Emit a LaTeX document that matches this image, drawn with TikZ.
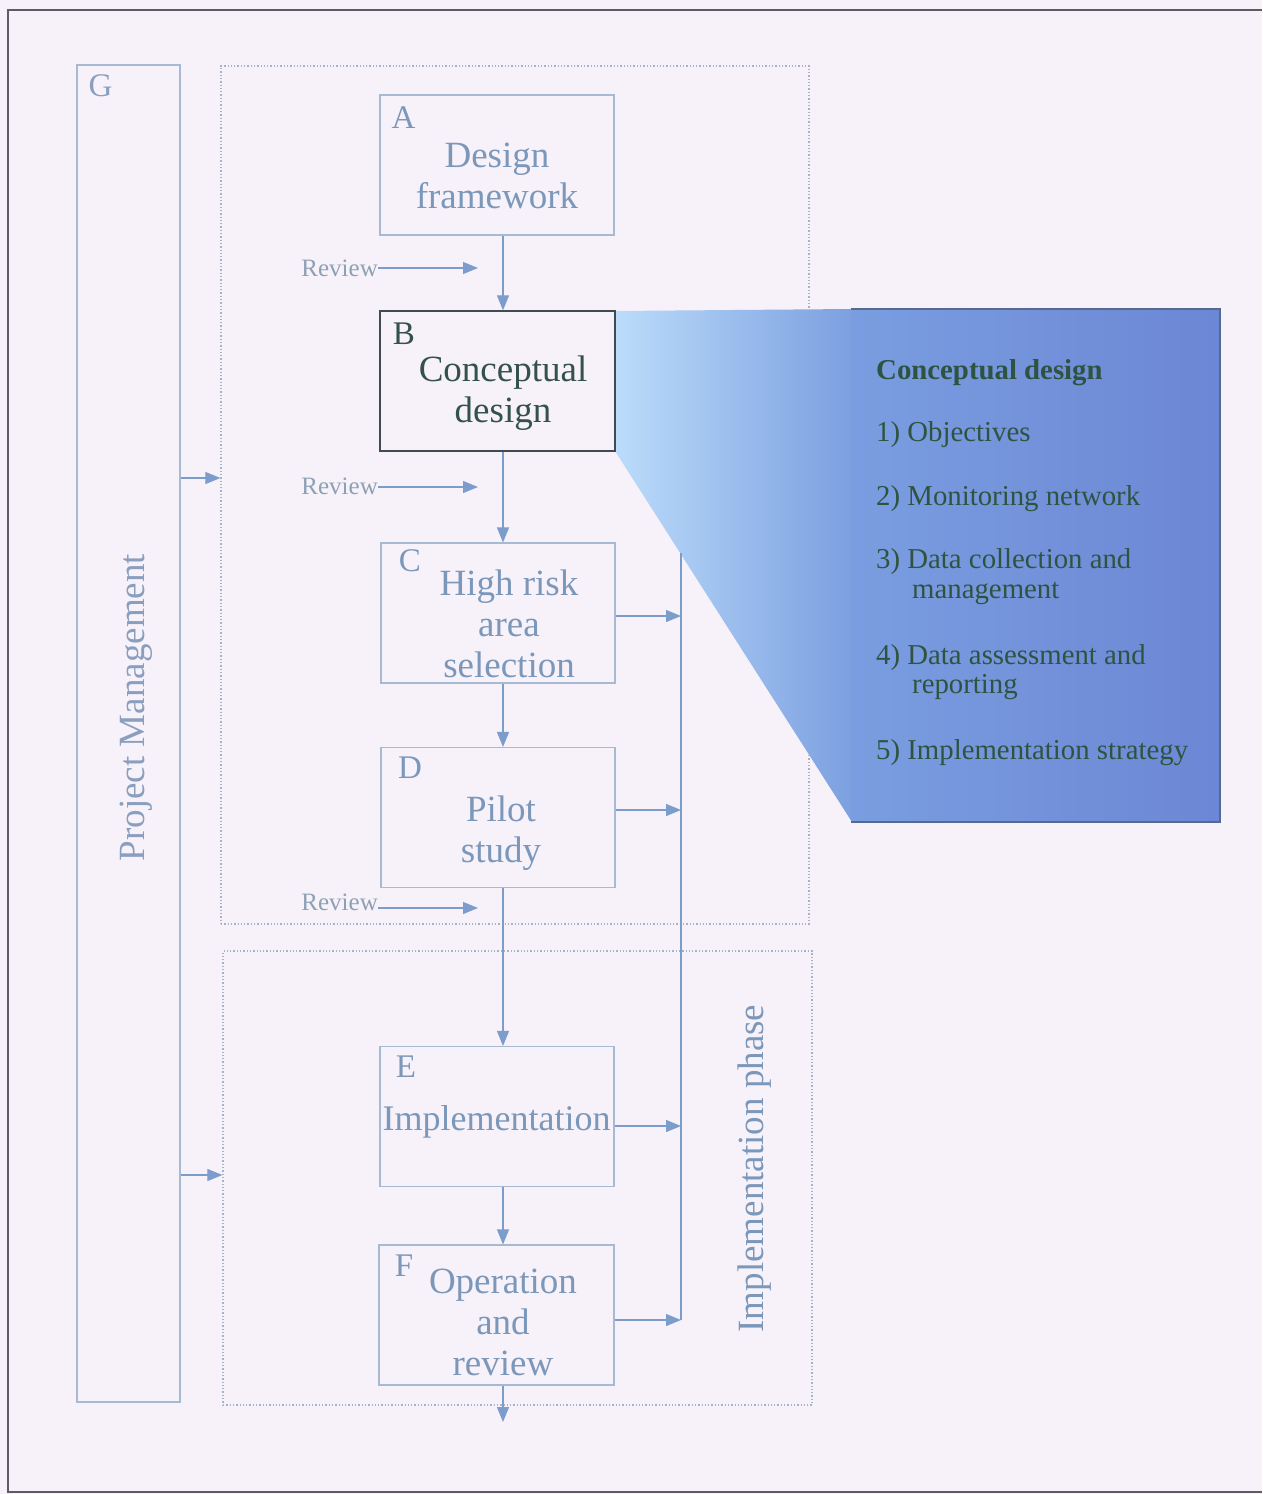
\documentclass[tikz,border=0pt]{standalone}
\usepackage{fontspec}
\setmainfont{Liberation Serif}
\usetikzlibrary{arrows.meta,calc}

\definecolor{paper}{HTML}{F7F1F9}
\definecolor{framec}{HTML}{5C5C68}
\definecolor{boxline}{HTML}{A6BAD2}
\definecolor{boxtxt}{HTML}{7B97BA}
\definecolor{darkbox}{HTML}{404A52}
\definecolor{darktxt}{HTML}{34524C}
\definecolor{arrowc}{HTML}{7C9CCB}
\definecolor{revc}{HTML}{8DA1B4}
\definecolor{dotc}{HTML}{A4B4C6}
\definecolor{sidetxt}{HTML}{8A9EBE}
\definecolor{funnelL}{HTML}{BBDCFA}
\definecolor{funnelR}{HTML}{7C9FE0}
\definecolor{panelL}{HTML}{7A9DE0}
\definecolor{panelR}{HTML}{6C87D5}
\definecolor{panelEdge}{HTML}{56698E}
\definecolor{paneltxt}{HTML}{2E5441}

\tikzset{
  stepbox/.style={draw=boxline, line width=1.1pt, minimum width=234pt,
    minimum height=140pt, inner sep=0pt},
  boxtext/.style={text=boxtxt, font=\fontsize{37}{41}\selectfont,
    align=center, inner sep=0pt},
  letter/.style={text=boxtxt, font=\fontsize{33}{36}\selectfont, inner sep=0pt},
  arr/.style={draw=arrowc, line width=1.2pt,
    -{Triangle[length=15pt,width=12pt]}},
  plain/.style={draw=arrowc, line width=1.2pt},
  rev/.style={text=revc, font=\fontsize{25}{28}\selectfont, inner sep=0pt},
  phasebox/.style={draw=dotc, dotted, line width=1.3pt, inner sep=0pt},
  sidelabel/.style={text=sidetxt, font=\fontsize{37}{41}\selectfont,
    inner sep=0pt, rotate=90},
  paneltext/.style={text=paneltxt, font=\fontsize{28.8}{32}\selectfont,
    anchor=base west, inner sep=0pt},
  frame/.style={draw=framec, line width=1.5pt}
}

\begin{document}
\begin{tikzpicture}[x=1pt,y=-1pt]
  % page and outer frame
  \fill[paper] (0,0) rectangle (1262,1494);
  \useasboundingbox (0,0) rectangle (1262,1494);
  \draw[frame] (1262,10) -- (8,10) -- (8,1492) -- (1262,1492);

  % phase groups
  \node[phasebox, minimum width=588pt, minimum height=858pt] (upper) at (515,495) {};
  \node[phasebox, minimum width=589pt, minimum height=454pt] (lower) at (517.5,1178) {};

  % project management column
  \node[draw=boxline, line width=1.1pt, inner sep=0pt,
        minimum width=103pt, minimum height=1337pt] (G) at (128.5,733.5) {};
  \node[letter, text=sidetxt] (Gl) at (100.5,86) {G};
  \node[sidelabel] (Gt) at (136,707.5) {Project Management};

  % zoom panel for the conceptual design step
  \shade[left color=funnelL, right color=funnelR]
    (615,311) -- (852,309) -- (852,822) -- (615,451) -- cycle;
  \shade[left color=panelL, right color=panelR]
    (851,309) rectangle (1220,822);
  \draw[draw=panelEdge, line width=1.4pt]
    (851,309) -- (1220,309) -- (1220,822) -- (851,822);

  % process steps
  \node[stepbox] (A) at (497,165) {};
  \node[stepbox, draw=darkbox, line width=1.4pt, minimum width=235pt] (B) at (497.5,381) {};
  \node[stepbox] (C) at (498,613) {};
  \node[stepbox] (D) at (498,817.5) {};
  \node[stepbox] (E) at (497,1116.5) {};
  \node[stepbox, minimum width=235pt] (F) at (496.5,1315) {};

  \node[letter] (Al) at (403.5,117.5) {A};
  \node[letter, text=darktxt] (Bl) at (404,334) {B};
  \node[letter] (Cl) at (410,561) {C};
  \node[letter] (Dl) at (410,768) {D};
  \node[letter] (El) at (406,1067) {E};
  \node[letter] (Fl) at (404,1266) {F};

  \node[boxtext] (At) at (497,175.5) {Design\\framework};
  \node[boxtext, text=darktxt] (Bt) at (503,393.5) {Conceptual\\design};
  \node[boxtext] (Ct) at (509,623.5) {High risk\\area\\selection};
  \node[boxtext] (Dt) at (501,833.5) {Pilot\\study};
  \node[boxtext, font=\fontsize{36}{40}\selectfont] (Et) at (496.5,1121.5) {Implementation};
  \node[boxtext] (Ft) at (503,1322) {Operation\\and\\review};

  % main flow
  \coordinate (spine) at (503,0);
  \coordinate (out) at (503,1422);
  \draw[arr] (A.south -| spine) -- (B.north -| spine);
  \draw[arr] (B.south -| spine) -- (C.north -| spine);
  \draw[arr] (C.south -| spine) -- (D.north -| spine);
  \draw[arr] (D.south -| spine) -- (E.north -| spine);
  \draw[arr] (E.south -| spine) -- (F.north -| spine);
  \draw[arr] (F.south -| spine) -- (out);

  % review inputs
  \node[rev, anchor=east] (rv1) at (378,268) {Review};
  \node[rev, anchor=east] (rv2) at (378,486) {Review};
  \node[rev, anchor=east] (rv3) at (378,902) {Review};
  \coordinate (rv1e) at (478,268);
  \coordinate (rv2e) at (478,487);
  \coordinate (rv3e) at (478,908);
  \draw[arr] (rv1e -| rv1.east) -- (rv1e);
  \draw[arr] (rv2e -| rv2.east) -- (rv2e);
  \draw[arr] (rv3e -| rv3.east) -- (rv3e);

  % feedback collector on the right
  \coordinate (colTop) at (681,553);
  \coordinate (cC) at (681,616);
  \coordinate (cD) at (681,810);
  \coordinate (cE) at (681,1126);
  \coordinate (cF) at (681,1320);
  \draw[plain] (colTop) -- (cF);
  \draw[arr] (cC -| C.east) -- (cC);
  \draw[arr] (cD -| D.east) -- (cD);
  \draw[arr] (cE -| E.east) -- (cE);
  \draw[arr] (cF -| F.east) -- (cF);

  % project management feeds both phases
  \coordinate (g1) at (0,478);
  \coordinate (g2) at (0,1175);
  \draw[arr] (G.east |- g1) -- (upper.west |- g1);
  \draw[arr] (G.east |- g2) -- (lower.west |- g2);

  \node[sidelabel, text=boxtxt] (Ip) at (754.5,1168.5) {Implementation phase};

  % panel contents
  \node[paneltext, font=\fontsize{28.8}{32}\selectfont\bfseries] (p0) at (876,379) {Conceptual design};
  \node[paneltext] (p1) at (876,441) {1) Objectives};
  \node[paneltext] (p2) at (876,505) {2) Monitoring network};
  \node[paneltext] (p3) at (876,568) {3) Data collection and};
  \node[paneltext] (p3b) at (912,598) {management};
  \node[paneltext] (p4) at (876,664) {4) Data assessment and};
  \node[paneltext] (p4b) at (912,693) {reporting};
  \node[paneltext] (p5) at (876,759) {5) Implementation strategy};
\end{tikzpicture}
\end{document}
